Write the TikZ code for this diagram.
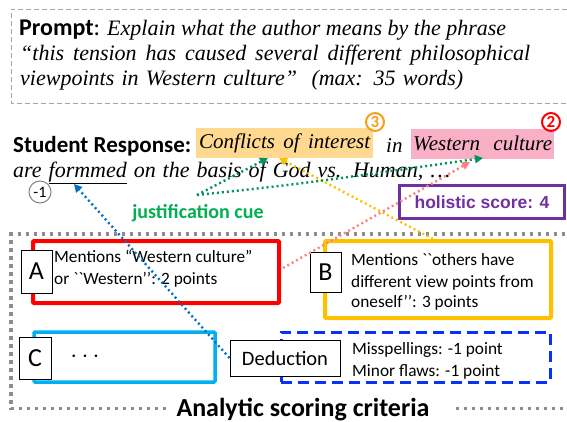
\documentclass[tikz,border=0pt]{standalone}
\usepackage{fontspec}
\setmainfont{Liberation Serif}
\setsansfont{Carlito}
\newfontfamily\holfont{Liberation Sans}
\newfontfamily\critfont{Carlito}[Ligatures=TeXOff]
\usetikzlibrary{arrows.meta}
\definecolor{hlorange}{HTML}{FFD990}
\definecolor{hlpink}{HTML}{F9B0C7}
\definecolor{numorange}{HTML}{F5A01A}
\definecolor{cuegreen}{HTML}{00B050}
\definecolor{arrgreen}{HTML}{00935A}
\definecolor{arrblue}{HTML}{0070C0}
\definecolor{boxyellow}{HTML}{FFC000}
\definecolor{boxred}{HTML}{FF0000}
\definecolor{boxcyan}{HTML}{00B0F0}
\definecolor{boxblue}{HTML}{0A32F5}
\definecolor{purp}{HTML}{7030A0}
\definecolor{arrpink}{HTML}{FF8080}
\definecolor{promptgray}{HTML}{A6A6A6}
\definecolor{critgray}{HTML}{8C8C8C}
\tikzset{
  txt/.style={inner sep=0pt, anchor=base west},
  ptxt/.style={inner sep=0pt, anchor=base west, font=\fontsize{22}{25}\selectfont\itshape},
  hl/.style={inner ysep=0pt, anchor=west, minimum height=30pt},
  lbl/.style={draw=black, line width=1pt, fill=white, inner sep=0pt, font=\sffamily\fontsize{26}{26}\selectfont},
  critbox/.style={line width=4pt, rounded corners=1pt, inner sep=0pt},
  crittext/.style={inner sep=0pt, anchor=base west, font=\critfont\fontsize{17.3}{21}\selectfont},
  dotarrow/.style={line width=2.4pt, dash pattern=on 2pt off 3pt, -{Triangle[length=8pt,width=8pt]}},
  numcirc/.style={circle, line width=2pt, inner sep=0pt, minimum size=18pt, font=\sffamily\bfseries\fontsize{17}{17}\selectfont},
}
\begin{document}
\begin{tikzpicture}[x=1pt,y=-1pt]
\useasboundingbox (0,0) rectangle (567,421);
% prompt box
\draw[promptgray, line width=1pt, dash pattern=on 5pt off 3pt] (575,9) -- (11,9) -- (11,103) -- (575,103);
\node[txt, font=\sffamily\fontsize{24}{25}\selectfont] (pl) at (19,35) {\textbf{Prompt}:};
\node[ptxt] (p1) at (107,35) {\makebox[399pt][s]{Explain what the author means by the phrase}};
\node[ptxt] (p2) at (20,60) {\makebox[510pt][s]{``this tension has caused several different philosophical}};
\node[ptxt] (p3) at (20,85) {\makebox[443pt][s]{viewpoints in Western culture''\ \ (max: 35 words)}};
% student response
\node[txt, font=\sffamily\bfseries\fontsize{23}{23}\selectfont] (sr) at (13,152) {Student Response:};
\node[hl, fill=hlorange, inner xsep=3pt] (coi) at (196,143) {\fontsize{21}{21}\selectfont\itshape\makebox[171pt][s]{Conflicts of interest}\hspace{8pt}};
\node[txt] (in) at (386,152) {\fontsize{21}{21}\selectfont\itshape in};
\node[hl, fill=hlpink, inner xsep=2pt] (wc) at (411,143.5) {\fontsize{21}{21}\selectfont\itshape\makebox[139pt][s]{Western culture}\hspace{5pt}};
\node[numcirc, draw=numorange, text=numorange] (n3) at (375,122) {3};
\node[numcirc, draw=boxred, text=boxred] (n2) at (551,122) {2};
\node[txt] (l2) at (13,177) {\fontsize{22}{22}\selectfont\itshape\makebox[437pt][s]{are \underline{formmed} on the basis of God vs. Human, \dots}};
\node[circle, draw=gray, line width=1pt, minimum size=22pt, inner sep=0pt, font=\sffamily\fontsize{16}{16}\selectfont] (m1) at (40,192) {-1};
\coordinate (formtip) at (74,184);
\coordinate (coitip) at (268,158);
\coordinate (coitipb) at (279,158);
\coordinate (wctip) at (483,158);
\coordinate (wctipb) at (470,162);
% justification cue
\node[font=\sffamily\bfseries\fontsize{20}{20}\selectfont, text=cuegreen, inner sep=0pt] (cue) at (198,213) {justification cue};
\coordinate (cuestart) at (197,195);
% holistic score
\node[draw=purp, line width=3pt, minimum width=165pt, minimum height=33.5pt, inner sep=0pt, text=purp, font=\holfont\bfseries\fontsize{17.5}{17.5}\selectfont] (hol) at (482,202) {holistic score: 4};
% analytic criteria
\node[inner sep=0pt, anchor=base, font=\sffamily\bfseries\fontsize{26}{26}\selectfont] (title) at (303,416) {Analytic scoring criteria};
\coordinate (gapL) at (166,408.5);
\coordinate (gapR) at (452,408.5);
\draw[critgray, line width=3.5pt, dash pattern=on 3.5pt off 4.5pt] (gapL) -- (11,408.5) -- (11,234) -- (575,234) -- (575,408.5) -- (gapR);
% box A
\node[critbox, draw=boxred, minimum width=246pt, minimum height=62pt] (boxA) at (156,272) {};
\node[lbl, minimum width=31pt, minimum height=43pt] (A) at (36.5,271.5) {A};
\node[crittext] (tA1) at (54,262) {Mentions “Western culture”};
\node[crittext] (tA2) at (54,284) {or ``Western’’: 2 points};
% box B
\node[critbox, draw=boxyellow, minimum width=226pt, minimum height=77pt] (boxB) at (438,279.5) {};
\node[lbl, minimum width=31pt, minimum height=40pt] (B) at (325.5,272) {B};
\node[crittext] (tB1) at (351,265) {Mentions ``others have};
\node[crittext] (tB2) at (351,287) {different view points from};
\node[crittext] (tB3) at (351,307) {oneself’’: 3 points};
% box C
\node[critbox, line width=3.5pt, draw=boxcyan, minimum width=181pt, minimum height=50pt] (boxC) at (124.5,357) {};
\node[lbl, minimum width=32pt, minimum height=42pt] (C) at (35,358) {C};
\node[inner sep=0pt, font=\sffamily\fontsize{24}{24}\selectfont] (dots) at (85,357) {$\cdots$};
% deduction
\node[draw=boxblue, line width=3pt, dash pattern=on 11pt off 6pt, minimum width=269pt, minimum height=50pt, inner sep=0pt] (boxD) at (415.5,357) {};
\node[crittext] (tD1) at (352,354) {Misspellings: -1 point};
\node[crittext] (tD2) at (352,376) {Minor flaws: -1 point};
\node[draw=black, line width=1pt, fill=white, minimum width=110pt, minimum height=36pt, inner sep=0pt, font=\sffamily\fontsize{20.5}{20.5}\selectfont] (ded) at (285,358) {Deduction};
% arrows
\draw[dotarrow, arrblue] (ded.west) -- (formtip);
\draw[dotarrow, boxyellow] (433,239) -- (coitipb);
\draw[dotarrow, arrpink] (boxA.east) ++(2,-4) -- (wctipb);
\draw[dotarrow, arrgreen] (cuestart) -- (coitip);
\draw[dotarrow, arrgreen] (cuestart) .. controls (300,184) .. (wctip);
\end{tikzpicture}
\end{document}
